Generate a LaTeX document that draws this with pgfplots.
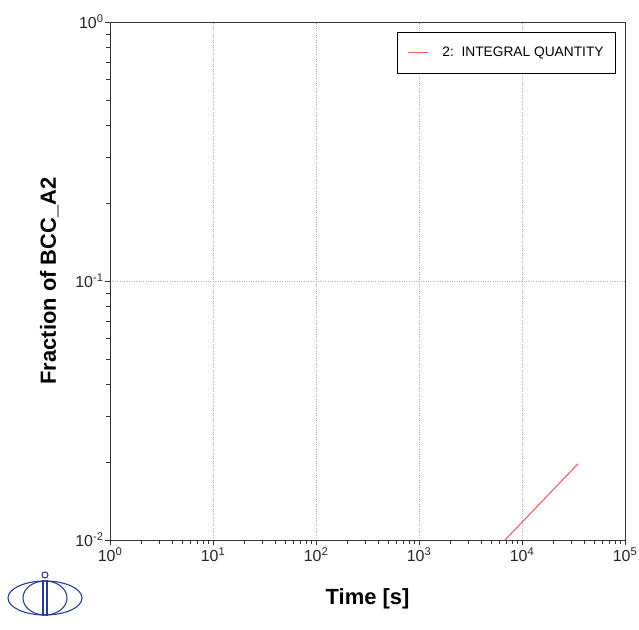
\documentclass[border=0pt]{standalone}
\usepackage{pgfplots}
\pgfplotsset{compat=1.18}
\usepackage{fontspec}
\setmainfont{Liberation Sans}
\definecolor{linered}{RGB}{236,96,106}
\definecolor{logoblue}{RGB}{40,60,150}
\begin{document}
\begin{tikzpicture}
\path[use as bounding box] (0bp,0bp) rectangle (639bp,630bp);
\begin{axis}[
  at={(110bp,90bp)}, anchor=south west,
  scale only axis, width=515bp, height=518bp,
  xmode=log, ymode=log,
  xmin=1, xmax=1e5, ymin=0.01, ymax=1,
  xtick={1,10,100,1000,10000,100000},
  xticklabels={10\textsuperscript{0},10\textsuperscript{1},10\textsuperscript{2},10\textsuperscript{3},10\textsuperscript{4},10\textsuperscript{5}},
  ytick={0.01,0.1,1},
  yticklabels={10\textsuperscript{-2},10\textsuperscript{-1},10\textsuperscript{0}},
  tick label style={font=\fontsize{16}{18}\selectfont, text=black!85},
  xticklabel style={yshift=1bp},
  yticklabel style={xshift=2bp},
  tick align=outside, xtick pos=bottom, ytick pos=left,
  major tick length=5bp, minor tick length=4bp,
  tick style={black!80, line width=0.6pt},
  axis line style={black!80, line width=1pt},
  grid=major, major grid style={gray!60, dotted, line width=0.6pt},
  xlabel={\bfseries Time [s]},
  ylabel={\bfseries Fraction of BCC\_A2},
  xlabel style={font=\fontsize{22}{24}\selectfont, yshift=-20bp},
  ylabel style={font=\fontsize{22}{24}\selectfont, yshift=10bp},
  legend style={at={(1,1)}, anchor=north east, xshift=-9bp, yshift=-10bp,
    font=\fontsize{13.8}{16}\selectfont, draw=black, line width=0.8pt,
    inner xsep=10bp, inner ysep=13bp},
  legend cell align=left,
  legend image code/.code={\draw[linered, line width=1.1pt] (0bp,0bp) -- (20bp,0bp);},
]
\addplot[linered, line width=1.1pt] coordinates {(6840,0.01) (35000,0.0197)};
\addlegendentry{\hspace{12bp}2:\ \ INTEGRAL QUANTITY}
\end{axis}
% logo
\begin{scope}[logoblue, line width=1.1pt]
\draw (45bp,32bp) ellipse (37bp and 17bp);
\draw (45bp,32bp) ellipse (22bp and 17bp);
\draw (43bp,50bp) -- (43bp,14bp);
\draw (47bp,50bp) -- (47bp,14bp);
\draw (45bp,55bp) circle (3bp);
\end{scope}
\end{tikzpicture}
\end{document}
